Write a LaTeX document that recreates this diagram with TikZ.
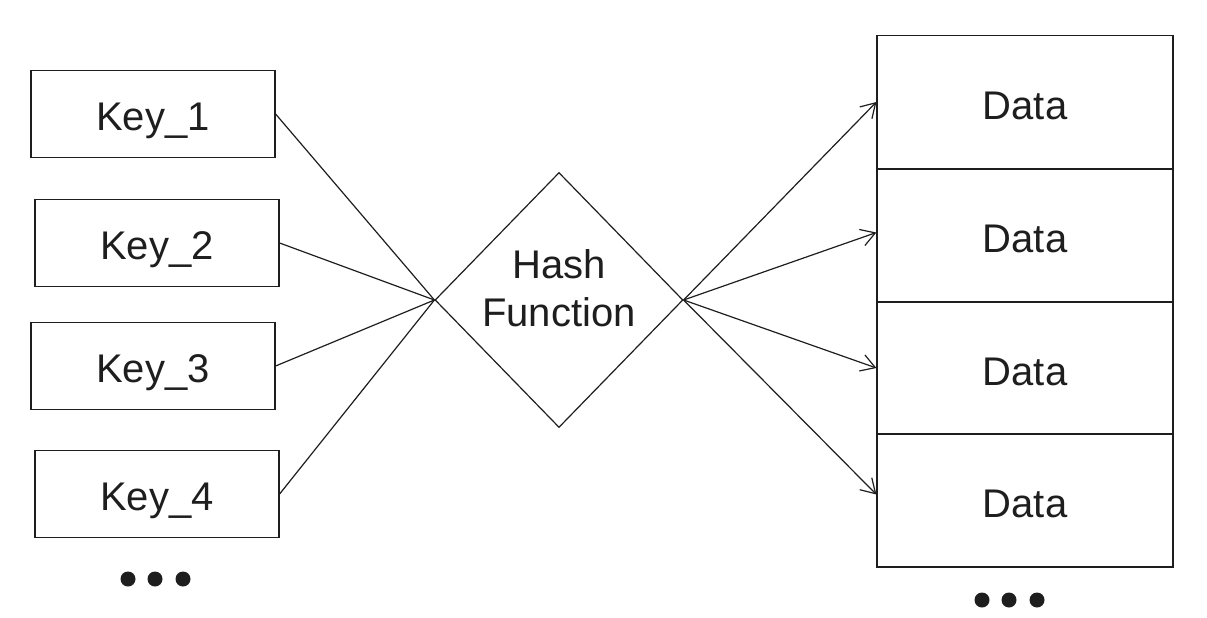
\documentclass[tikz,border=0pt]{standalone}
\usepackage{fontspec}
\setmainfont{Liberation Sans}
\usetikzlibrary{shapes.geometric,arrows.meta}
\definecolor{ink}{HTML}{1E1E1E}
\begin{document}
\begin{tikzpicture}[x=1pt,y=-1pt,
  every node/.style={text=ink},
  keybox/.style={draw=ink,line width=1.2pt,minimum width=244pt,minimum height=87pt,inner sep=0pt,text height=33pt,text depth=0pt,font=\fontsize{40}{45}\selectfont},
  databox/.style={draw=ink,line width=1.2pt,minimum width=296pt,minimum height=133pt,inner sep=0pt,text height=34pt,text depth=0pt,font=\fontsize{40}{45}\selectfont},
  hashbox/.style={draw=ink,line width=1.2pt,diamond,aspect=0.97,minimum width=248pt,minimum height=255pt,inner sep=0pt,font=\fontsize{40}{48}\selectfont},
  link/.style={draw=ink,line width=1.2pt},
  arr/.style={draw=ink,line width=1.2pt,-{Straight Barb[length=14pt,width=17pt,line width=1.2pt]}},
  dot/.style={fill=ink,draw=none}
]
\useasboundingbox (0,0) rectangle (1207,618);

\node[keybox] (k1) at (153,114) {Key\_1};
\node[keybox] (k2) at (157,243) {Key\_2};
\node[keybox] (k3) at (153,366) {Key\_3};
\node[keybox] (k4) at (157,494) {Key\_4};

\node[hashbox] (h) at (559,300) {\raisebox{1pt}[0pt][0pt]{\begin{tabular}{@{}c@{}}Hash\\Function\end{tabular}}};

\node[databox] (d1) at (1025,102) {Data};
\node[databox] (d2) at (1025,235.5) {Data};
\node[databox] (d3) at (1025,368) {Data};
\node[databox] (d4) at (1025,500.5) {Data};

\draw[link] (k1.east) -- (h.west);
\draw[link] (k2.east) -- (h.west);
\draw[link] (k3.east) -- (h.west);
\draw[link] (k4.east) -- (h.west);

\draw[arr] (h.east) -- (d1.west);
\draw[arr] (h.east) -- ([yshift=3pt]d2.west);
\draw[arr] (h.east) -- (d3.west);
\draw[arr] (h.east) -- ([yshift=6pt]d4.west);

\foreach \x in {128,155,183} \fill[dot] (\x,579) circle (7.5pt);
\foreach \x in {982,1009,1037} \fill[dot] (\x,600) circle (7.5pt);
\end{tikzpicture}
\end{document}
